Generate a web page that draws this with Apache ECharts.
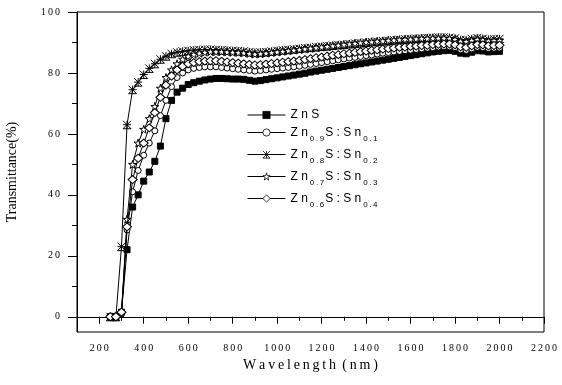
<!DOCTYPE html>
<html><head><meta charset="utf-8">
<script src="https://cdn.jsdelivr.net/npm/echarts@6/dist/echarts.min.js"></script>
<style>html,body{margin:0;padding:0;background:#fff}#c{width:562px;height:385px}</style>
</head><body><div id="c"></div>
<script>
// Wavelength (nm)
const wavelengths = [250,275,300,325,350,375,400,425,450,475,500,525,550,575,600,625,650,675,700,725,750,775,800,825,850,875,900,925,950,975,1000,1025,1050,1075,1100,1125,1150,1175,1200,1225,1250,1275,1300,1325,1350,1375,1400,1425,1450,1475,1500,1525,1550,1575,1600,1625,1650,1675,1700,1725,1750,1775,1800,1825,1850,1875,1900,1925,1950,1975,2000];
// Transmittance (%)
const ZnS = [0,0,1.5,22,36,40,44.5,47.5,51,56,65,71,73.7,75,76.2,76.8,77.3,77.7,78,78.2,78.2,78.1,78,78,77.9,77.6,77.3,77.5,77.8,78.1,78.4,78.7,79,79.3,79.6,79.9,80.3,80.6,80.9,81.2,81.5,81.8,82.1,82.4,82.7,83,83.3,83.6,83.9,84.2,84.5,84.8,85.1,85.4,85.7,86,86.3,86.6,86.9,87.1,87.3,87.4,87.1,86.5,86.3,86.8,87.3,87.2,86.9,87,87.1];
const Zn09 = [0,0,1,28.5,41,48,53,57,61,66,71,75.5,78.5,80,81,81.5,81.8,82,82,82,81.8,81.6,81.4,81.2,81,80.8,80.6,80.8,81,81.2,81.4,81.6,81.8,82,82.2,82.5,82.8,83.1,83.4,83.7,84,84.3,84.6,84.9,85.1,85.4,85.7,85.9,86.2,86.5,86.7,86.9,87.1,87.3,87.5,87.7,87.9,88.1,88.3,88.5,88.6,88.6,88.3,87.6,87.4,87.9,88.4,88.3,88,88.1,88.2];
const Zn08 = [0,0,23,63,74.5,77,79.5,81.5,83,84.5,85.5,86.3,86.8,87.1,87.3,87.5,87.6,87.7,87.7,87.6,87.5,87.4,87.3,87.2,87.1,86.9,86.7,86.8,86.9,87.1,87.3,87.5,87.6,87.8,88,88.2,88.3,88.5,88.7,88.8,89,89.2,89.3,89.5,89.7,89.8,90,90.2,90.3,90.5,90.6,90.8,90.9,91.1,91.2,91.3,91.4,91.5,91.6,91.7,91.7,91.6,91.4,90.9,90.8,91.2,91.5,91.3,91,91.1,91.2];
const Zn07 = [0,0,1,32,50,57,61.5,65,69,75,78.5,81,83,84.5,85.5,86.1,86.5,86.8,87,87,87,86.9,86.8,86.7,86.6,86.4,86.2,86.3,86.5,86.7,86.9,87.1,87.3,87.5,87.7,87.9,88.1,88.3,88.5,88.7,88.9,89.1,89.3,89.5,89.7,89.9,90.1,90.2,90.4,90.5,90.7,90.8,90.9,91,91.1,91.2,91.3,91.3,91.4,91.4,91.4,91.3,91,90.4,90.3,90.7,91,90.8,90.5,90.6,90.7];
const Zn06 = [0,0,1.5,29.5,45,52,57,62,67,72,76,79,81,82.2,83,83.4,83.7,83.9,84,84,83.8,83.6,83.4,83.2,83,82.8,82.6,82.7,82.9,83.1,83.3,83.5,83.7,83.9,84.1,84.4,84.7,85,85.2,85.5,85.8,86,86.3,86.5,86.8,87,87.2,87.4,87.6,87.8,88,88.2,88.4,88.5,88.7,88.8,89,89.1,89.3,89.4,89.5,89.5,89.2,88.6,88.4,88.9,89.3,89.2,88.9,89,89.1];

const seriesNames = ['ZnS','Zn0.9S:Sn0.1','Zn0.8S:Sn0.2','Zn0.7S:Sn0.3','Zn0.6S:Sn0.4'];
const xTickLabels = [200,400,600,800,1000,1200,1400,1600,1800,2000,2200];
const xMinorTicks = [100,300,500,700,900,1100,1300,1500,1700,1900,2100];
const yTickLabels = [0,20,40,60,80,100];
const yMinorTicks = [10,30,50,70,90];

const TS = '\u2009';
const spaced = v => String(v).split('').join(TS);
const sub = s => '{s|' + s.split('').join(TS) + '}';
const legendText = {
  'ZnS': '{m|Z n S}',
  'Zn0.9S:Sn0.1': '{m|Z n}' + sub('0.9') + '{m|S : S n}' + sub('0.1'),
  'Zn0.8S:Sn0.2': '{m|Z n}' + sub('0.8') + '{m|S : S n}' + sub('0.2'),
  'Zn0.7S:Sn0.3': '{m|Z n}' + sub('0.7') + '{m|S : S n}' + sub('0.3'),
  'Zn0.6S:Sn0.4': '{m|Z n}' + sub('0.6') + '{m|S : S n}' + sub('0.4')
};

const starPath = 'path://M50,0L61,35L98,35L68,57L79,91L50,70L21,91L32,57L2,35L39,35Z';
const crossPath = 'path://M0,0L10,10M10,0L0,10M0,5L10,5M5,0L5,10M0,10L10,10';

const values = [ZnS, Zn09, Zn08, Zn07, Zn06];
const symbols = ['rect','circle',crossPath,starPath,'diamond'];
const sizes = [6,6,8,8,[9,8]];
const fills = ['#000','#fff','#fff','#fff','#fff'];

const series = seriesNames.map((n,i)=>({
  name:n, type:'line', xAxisIndex:0, yAxisIndex:0,
  data: wavelengths.map((w,j)=>[w, values[i][j]]),
  symbol: symbols[i], symbolSize: sizes[i], showAllSymbol:true,
  lineStyle:{color:'#000', width:1},
  itemStyle:{color:fills[i], borderColor:'#000', borderWidth:1},
  emphasis:{disabled:true}, animation:false, z: 2 + i
}));

const serif = 'Liberation Serif';
const chart = echarts.init(document.getElementById('c'));
chart.setOption({
  backgroundColor:'#fff',
  animation:false,
  grid:{left:77, right:18, top:12, bottom:53, show:true, borderColor:'#000', borderWidth:1, backgroundColor:'transparent', outerBoundsMode:'none'},
  legend:{
    orient:'vertical', left:247, top:109, padding:0, itemGap:1,
    itemWidth:38, itemHeight:9,
    itemStyle:{borderWidth:0.8},
    lineStyle:{width:1},
    data: seriesNames,
    formatter: n => legendText[n],
    textStyle:{
      color:'#000',
      rich:{
        m:{fontFamily:'Liberation Sans', fontSize:12, color:'#000', lineHeight:21, verticalAlign:'middle'},
        s:{fontFamily:'Liberation Sans', fontSize:8, color:'#000', lineHeight:8, padding:[13,1,0,2], verticalAlign:'middle'}
      }
    }
  },
  xAxis:[{
    type:'value', position:'bottom', min:100, max:2200,
    axisLine:{show:true, lineStyle:{color:'#000', width:1}},
    axisTick:{show:true, customValues:xTickLabels, length:7, lineStyle:{color:'#000'}},
    axisLabel:{show:true, customValues:xTickLabels, formatter: spaced, margin:11, fontFamily:serif, fontSize:10, color:'#000'},
    splitLine:{show:false},
    name: 'W\u2009a\u2009v\u2009e\u2009l\u2009e\u2009n\u2009g\u2009t\u2009h \u2009(\u2009n\u2009m\u2009)', nameLocation:'middle', nameGap:22,
    nameTextStyle:{fontFamily:serif, fontSize:14, color:'#000'}
  },{
    type:'value', position:'bottom', min:100, max:2200,
    axisLine:{show:false},
    axisTick:{show:true, customValues:xMinorTicks, length:4, lineStyle:{color:'#000'}},
    axisLabel:{show:false}, splitLine:{show:false}
  }],
  yAxis:[{
    type:'value', position:'left', min:-5, max:100,
    axisLine:{show:true, lineStyle:{color:'#000', width:1}},
    axisTick:{show:true, customValues:yTickLabels, length:9, lineStyle:{color:'#000'}},
    axisLabel:{show:true, customValues:yTickLabels, formatter: spaced, margin:17, fontFamily:serif, fontSize:10, color:'#000'},
    splitLine:{show:false},
    name:'Transmittance(%)', nameLocation:'middle', nameGap:58, nameRotate:90,
    nameTextStyle:{fontFamily:serif, fontSize:14, color:'#000'}
  },{
    type:'value', position:'left', min:-5, max:100,
    axisLine:{show:false},
    axisTick:{show:true, customValues:yMinorTicks, length:5, lineStyle:{color:'#000'}},
    axisLabel:{show:false}, splitLine:{show:false}
  }],
  series: series
});
</script></body></html>
